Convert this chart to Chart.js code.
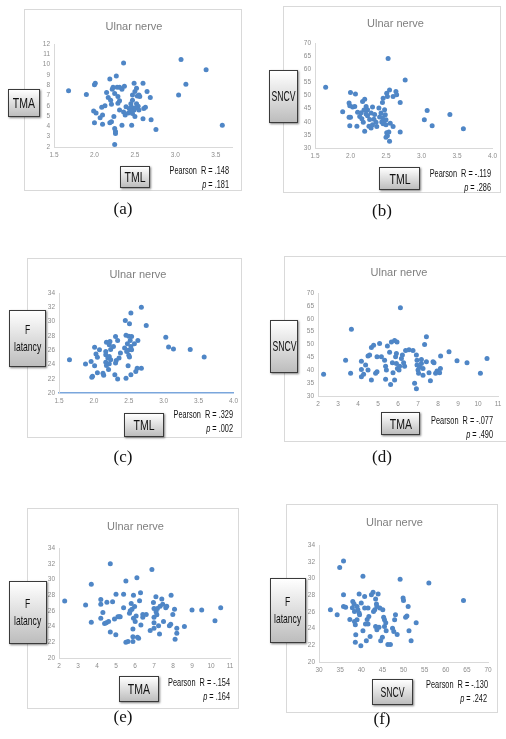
<!DOCTYPE html>
<html>
<head>
<meta charset="utf-8">
<script src="https://cdn.jsdelivr.net/npm/chart.js@4.4.1/dist/chart.umd.min.js"></script>
<style>
  body { margin: 0; background: #fff; }
  #fig { position: relative; width: 506px; height: 739px; overflow: hidden; }
  .panel { position: absolute; box-sizing: border-box; border: 1px solid #d9d9d9; background: #fff; }
  canvas { position: absolute; }
  .lab {
    position: absolute; box-sizing: border-box;
    border: 1px solid #3a3a3a;
    background: linear-gradient(#ffffff, #bdbdbd);
    box-shadow: 1px 1px 2px rgba(0,0,0,.5);
    display: flex; align-items: center; justify-content: center; text-align: center;
    font-family: "Liberation Sans", sans-serif; color: #111;
  }
  .lab span { display: inline-block; white-space: nowrap; }
  .stat {
    position: absolute; text-align: right; white-space: pre;
    font-family: "Liberation Sans", sans-serif;
    font-size: 10.5px; line-height: 14px; color: #111;
    transform: scaleX(0.7); transform-origin: right top;
  }
  .cap {
    position: absolute; transform: translateX(-50%);
    font-family: "Liberation Serif", "Times New Roman", serif; font-size: 17px; color: #111;
  }
</style>
</head>
<body>
<div id="fig"></div>
<script>
// (a) TML vs TMA
const tmlA = [1.68,1.90,2.00,2.01,1.99,2.02,2.00,2.07,2.09,2.10,
              2.10,2.15,2.19,2.20,2.17,2.21,2.22,2.23,2.27,2.25,
              2.28,2.31,2.29,2.24,2.21,2.19,2.25,2.26,2.26,2.25,
              2.36,2.34,2.37,2.39,2.36,2.38,2.34,2.29,2.31,2.43,
              2.45,2.46,2.47,2.47,2.49,2.50,2.49,2.47,2.46,2.50,
              2.52,2.53,2.55,2.52,2.54,2.56,2.51,2.55,2.60,2.61,
              2.63,2.65,2.60,2.69,2.70,2.76,3.07,3.13,3.04,3.38,
              3.58,2.45,2.42,2.31,2.13];
const tmaA = [7.47,7.10,8.05,8.20,5.50,5.30,4.35,4.85,5.85,5.10,
              4.20,7.30,8.60,6.55,6.80,6.15,7.60,7.80,8.90,7.20,
              7.80,7.80,6.90,4.95,4.45,4.35,3.80,3.50,3.30,2.25,
              10.15,7.60,7.90,5.90,5.40,5.10,4.10,6.25,6.50,5.75,
              6.20,5.85,6.55,7.05,8.20,7.40,5.60,5.25,4.10,4.95,
              7.70,6.95,7.05,6.20,5.95,6.90,5.80,5.60,8.20,5.75,
              5.85,7.40,4.75,6.80,4.65,3.70,10.50,8.10,7.05,9.50,
              4.10,5.50,5.30,5.60,6.00];

// (b) TML vs SNCV
const tmlB = [1.65,1.89,2.00,2.07,1.98,1.99,2.03,2.06,1.98,2.00,
              1.99,2.09,2.17,2.20,2.15,2.13,2.16,2.18,2.20,2.22,
              2.24,2.24,2.27,2.26,2.29,2.29,2.31,2.34,2.36,2.37,
              2.40,2.41,2.43,2.44,2.45,2.46,2.46,2.48,2.49,2.50,
              2.50,2.51,2.52,2.55,2.53,2.51,2.52,2.50,2.55,2.54,
              2.56,2.60,2.60,2.64,2.65,2.70,2.70,2.77,3.08,3.04,
              3.15,3.40,3.59,2.10,2.31,2.22,2.19,2.33,2.47,2.45];
const sncvB = [53.1,43.8,51.1,50.6,47.1,46.1,45.6,45.8,41.7,41.7,
               38.5,38.3,47.7,48.6,43.4,42.0,41.1,39.8,36.4,45.8,
               44.6,42.3,40.9,38.3,37.6,43.3,45.6,42.8,39.8,38.2,
               45.2,41.8,43.3,39.9,47.3,49.0,39.2,44.6,42.7,40.8,
               38.9,50.9,49.6,52.1,64.1,35.8,34.7,34.1,32.6,36.1,
               39.4,38.2,49.6,51.5,50.3,47.3,36.1,55.9,44.3,40.8,
               38.5,42.8,37.3,43.6,38.9,43.0,44.5,41.0,40.2,41.5];

// (c) TML vs F latency
const tmlC = [1.65,1.88,1.96,2.01,2.03,2.01,1.97,1.98,2.05,2.08,
              2.05,2.13,2.14,2.17,2.17,2.18,2.20,2.17,2.18,2.22,
              2.23,2.24,2.22,2.24,2.22,2.21,2.31,2.28,2.32,2.30,
              2.34,2.34,2.36,2.38,2.44,2.45,2.46,2.48,2.49,2.50,
              2.49,2.46,2.51,2.50,2.53,2.52,2.54,2.53,2.51,2.54,
              2.53,2.58,2.60,2.62,2.63,2.68,2.68,2.75,3.03,3.07,
              3.14,3.38,3.58,2.31,2.47];
const flatC = [24.65,24.05,24.40,26.40,25.45,23.80,22.20,22.35,22.85,26.05,
               25.00,22.75,22.50,25.80,25.35,27.10,24.90,24.30,23.85,26.75,
               27.20,26.10,25.10,24.65,24.10,23.30,27.90,26.50,24.55,22.55,
               21.95,27.35,24.90,25.60,26.30,30.15,28.10,26.90,26.00,25.30,
               23.80,22.05,29.70,27.95,31.20,27.35,27.90,26.50,25.05,26.05,
               22.55,26.90,23.00,23.45,27.35,32.00,23.45,29.45,27.80,26.45,
               26.15,26.10,25.05,24.20,25.80];

// (d) TMA vs SNCV
const tmaD = [2.28,3.38,3.63,3.67,4.17,4.17,4.17,4.28,4.38,4.50,
              4.50,4.58,4.67,4.67,4.78,4.88,4.95,4.95,5.08,5.17,
              5.33,5.38,5.42,5.38,5.47,5.58,5.63,5.67,5.72,5.75,
              5.83,5.88,5.92,5.92,5.83,5.95,5.97,6.05,6.08,6.12,
              6.17,6.22,6.28,6.33,6.38,6.55,6.75,6.83,6.92,6.92,
              6.95,6.95,7.00,7.03,7.08,7.17,7.17,7.25,7.25,7.33,
              7.42,7.42,7.55,7.62,7.75,7.80,7.88,7.95,8.08,8.12,
              8.13,8.55,8.95,9.45,10.12,10.45];
const sncvD = [38.4,43.9,38.8,55.9,43.5,40.3,37.5,38.4,42.0,40.1,
               45.5,45.9,36.2,48.8,49.7,38.8,39.4,45.2,50.4,45.2,
               43.9,41.6,40.1,36.5,49.4,47.0,34.5,51.0,42.9,39.0,
               51.6,45.2,46.5,42.6,36.2,51.0,40.7,40.1,41.6,64.3,
               44.6,45.9,42.9,41.6,47.7,48.0,47.7,35.0,32.8,45.9,
               43.9,42.0,40.1,38.8,41.2,42.6,44.2,40.7,38.1,50.0,
               53.0,43.3,39.0,35.9,43.3,42.9,38.8,39.7,39.0,40.7,
               45.5,47.2,43.7,42.9,38.8,44.6];

// (e) TMA vs F latency
const tmaE = [2.30,3.40,3.70,3.70,4.20,4.20,4.20,4.31,4.40,4.49,
              4.52,4.61,4.70,4.70,4.82,4.92,4.99,5.00,5.10,5.17,
              5.22,5.40,5.40,5.52,5.52,5.63,5.71,5.75,5.80,5.84,
              5.89,5.89,5.92,5.89,5.92,5.98,6.01,6.06,6.10,6.13,
              6.19,6.24,6.29,6.31,6.41,6.41,6.59,6.80,6.89,6.97,
              7.00,7.00,7.00,7.00,7.10,7.11,7.15,7.18,7.24,7.29,
              7.32,7.41,7.46,7.50,7.62,7.67,7.81,7.88,7.90,7.99,
              8.08,8.11,8.20,8.20,8.60,9.00,9.51,10.21,10.51];
const flatE = [27.25,26.75,24.55,29.40,27.45,26.85,25.05,25.80,24.40,24.50,
               27.10,24.65,32.00,23.30,27.15,24.95,22.95,28.10,25.25,25.25,
               25.25,26.40,28.10,29.80,22.00,22.10,25.70,26.00,26.95,26.20,
               23.70,22.70,28.00,22.10,25.05,26.55,24.65,25.35,30.20,22.65,
               22.50,27.30,28.30,24.20,25.20,25.55,25.55,23.50,31.25,27.05,
               26.30,25.20,24.50,23.80,27.80,25.90,25.50,26.30,24.10,23.05,
               26.60,27.50,26.85,24.65,26.40,26.60,24.10,24.30,28.00,25.55,
               26.20,22.40,23.80,23.15,24.00,26.10,26.10,24.75,26.40];

// (f) SNCV vs F latency
const sncvF = [32.7,34.3,34.9,35.8,35.8,35.8,36.3,37.3,37.9,38.0,
               38.3,38.4,38.4,38.6,38.7,38.6,39.0,39.0,39.2,39.5,
               39.6,39.5,39.9,40.0,40.4,40.4,40.8,40.8,41.0,41.2,
               41.4,41.6,41.6,41.8,42.1,42.4,42.8,42.9,43.2,43.4,
               43.6,43.7,43.4,43.7,44.0,44.2,44.4,44.6,45.0,45.1,
               45.3,45.5,45.5,45.8,45.9,46.3,46.9,47.4,47.7,47.9,
               48.1,48.5,49.2,49.9,50.0,50.5,50.8,51.1,51.3,51.8,
               53.0,56.0,64.2];
const flatF = [26.25,25.65,31.30,32.10,28.05,26.65,26.55,25.10,26.50,27.25,
               26.95,26.05,24.85,24.45,23.25,22.35,26.65,25.05,26.25,25.85,
               25.65,28.15,21.95,27.05,30.25,23.75,27.85,26.45,24.55,22.55,
               25.10,26.45,24.55,25.45,23.05,28.05,28.35,26.05,26.25,27.55,
               26.95,26.65,24.25,23.85,28.15,24.15,26.45,22.55,22.95,26.25,
               25.35,25.05,24.25,24.70,23.75,22.10,22.10,24.05,23.65,25.05,
               25.65,23.30,29.90,27.65,27.35,25.35,25.50,26.65,23.75,22.55,
               24.70,29.45,27.35];

// tick labels
const ticksTML = [1.5, 2, 2.5, 3, 3.5];
const ticksTML4 = [1.5, 2, 2.5, 3, 3.5, 4];
const ticksTMA = [2, 3, 4, 5, 6, 7, 8, 9, 10, 11];
const ticksTMAy = [2, 3, 4, 5, 6, 7, 8, 9, 10, 11, 12];
const ticksSNCV = [30, 35, 40, 45, 50, 55, 60, 65, 70];
const ticksFlat = [20, 22, 24, 26, 28, 30, 32, 34];

const FONT = '"Liberation Sans", sans-serif';
const DOT = '#4f86c6';
const fig = document.getElementById('fig');

function addDiv(cls, l, t, w, h, html, extra) {
  const d = document.createElement('div');
  d.className = cls;
  d.style.left = l + 'px'; d.style.top = t + 'px';
  if (w != null) d.style.width = w + 'px';
  if (h != null) d.style.height = h + 'px';
  d.innerHTML = html;
  if (extra) Object.assign(d.style, extra);
  fig.appendChild(d);
  return d;
}

// label name -> [font size, horizontal squeeze]
const labStyle = { 'TMA': [15, 0.7], 'TML': [15, 0.7], 'SNCV': [14, 0.62], 'F<br>latancy': [13, 0.66] };

const YW = 18, XH = 14, TF = 11;

function nameBox(box, name) {
  const s = labStyle[name];
  addDiv('lab', box[0], box[1], box[2] - box[0], box[3] - box[1],
    '<span style="transform:scaleX(' + s[1] + ')">' + name + '</span>',
    { fontSize: s[0] + 'px', lineHeight: '1.3' });
}

function scatter(p) {
  const [L, T, R, B] = p.box;
  const [l, t, r, b] = p.plot;
  addDiv('panel', L, T, R - L, B - T, '');
  const cv = document.createElement('canvas');
  cv.width = R - L; cv.height = B - T;
  cv.style.left = L + 'px'; cv.style.top = T + 'px';
  fig.appendChild(cv);

  const padTop = p.titleY - T - TF * 0.6;
  const padBot = t - p.titleY - TF * 0.6;
  const pts = p.xs.map((x, i) => ({ x: x, y: p.ys[i] }));

  new Chart(cv.getContext('2d'), {
    type: 'scatter',
    data: { datasets: [{ data: pts, backgroundColor: DOT, borderWidth: 0, pointRadius: 2.5, pointHoverRadius: 2.5 }] },
    options: {
      responsive: false,
      animation: false,
      events: [],
      layout: { padding: { left: l - L - YW, right: R - r, top: 0, bottom: B - b - XH } },
      plugins: {
        legend: { display: false },
        tooltip: { enabled: false },
        title: {
          display: true, text: 'Ulnar nerve', color: '#7f7f7f',
          font: { family: FONT, size: TF, weight: 'normal', lineHeight: 1.2 },
          padding: { top: padTop, bottom: padBot }
        }
      },
      scales: {
        x: {
          type: 'linear', min: p.xr[0], max: p.xr[1],
          afterFit: s => { s.height = XH; },
          afterBuildTicks: s => { s.ticks = p.xt.map(v => ({ value: v })); },
          grid: { display: false, drawTicks: false },
          border: { display: true, color: p.xLine || '#d9d9d9', width: p.xLineW || 1 },
          ticks: { color: '#8c8c8c', font: { family: FONT, size: 6.5 }, padding: 4, maxRotation: 0, autoSkip: false }
        },
        y: {
          type: 'linear', min: p.yr[0], max: p.yr[1],
          afterFit: s => { s.width = YW; },
          afterBuildTicks: s => { s.ticks = p.yt.map(v => ({ value: v })); },
          grid: { display: false, drawTicks: false },
          border: { display: true, color: '#d9d9d9', width: 1 },
          ticks: { color: '#8c8c8c', font: { family: FONT, size: 6.5 }, padding: 4, autoSkip: false }
        }
      }
    }
  });

  nameBox(p.yLab, p.yName);
  nameBox(p.xLab, p.xName);
  const st = p.stat;
  addDiv('stat', st[0], st[1], st[2] - st[0], null,
    'Pearson  R = ' + p.R + '<br><i>p</i> = ' + p.P);
  addDiv('cap', p.cap[0], p.cap[1] - 11, null, null, p.capText);
}

const FL = 'F<br>latancy';

scatter({ box: [24, 9, 242, 191], plot: [54, 44, 232, 147], titleY: 27,
  xs: tmlA, ys: tmaA, xr: [1.5, 3.7], yr: [2, 12], xt: ticksTML, yt: ticksTMAy,
  yLab: [8, 89, 40, 117], yName: 'TMA', xLab: [120, 166, 150, 188], xName: 'TML',
  stat: [140, 163, 229], R: '.148', P: '.181', cap: [123, 210], capText: '(a)' });

scatter({ box: [283, 6, 501, 193], plot: [315, 43, 494, 148], titleY: 24,
  xs: tmlB, ys: sncvB, xr: [1.5, 4], yr: [30, 70], xt: ticksTML4, yt: ticksSNCV,
  yLab: [269, 70, 298, 123], yName: 'SNCV', xLab: [379, 167, 420, 190], xName: 'TML',
  stat: [400, 166, 491], R: '-.119', P: '.286', cap: [382, 212], capText: '(b)' });

scatter({ box: [27, 258, 242, 438], plot: [59, 293, 235, 393], titleY: 275,
  xs: tmlC, ys: flatC, xr: [1.5, 4], yr: [20, 34], xt: ticksTML4, yt: ticksFlat,
  xLine: '#7aa6dc', xLineW: 1.5,
  yLab: [9, 310, 46, 367], yName: FL, xLab: [124, 413, 164, 437], xName: 'TML',
  stat: [140, 407, 233], R: '.329', P: '.002', cap: [123, 458], capText: '(c)' });

scatter({ box: [284, 256, 507, 442], plot: [318, 293, 498, 396], titleY: 273,
  xs: tmaD, ys: sncvD, xr: [2, 11], yr: [30, 70], xt: ticksTMA, yt: ticksSNCV,
  yLab: [270, 320, 298, 373], yName: 'SNCV', xLab: [381, 412, 420, 435], xName: 'TMA',
  stat: [400, 413, 493], R: '-.077', P: '.490', cap: [382, 458], capText: '(d)' });

scatter({ box: [27, 508, 239, 709], plot: [59, 548, 230, 658], titleY: 527,
  xs: tmaE, ys: flatE, xr: [2, 11], yr: [20, 34], xt: ticksTMA, yt: ticksFlat,
  yLab: [9, 581, 47, 644], yName: FL, xLab: [119, 676, 159, 702], xName: 'TMA',
  stat: [140, 675, 230], R: '-.154', P: '.164', cap: [123, 718], capText: '(e)' });

scatter({ box: [286, 504, 498, 713], plot: [319, 545, 488, 662], titleY: 523,
  xs: sncvF, ys: flatF, xr: [30, 70], yr: [20, 34], xt: ticksSNCV, yt: ticksFlat,
  yLab: [270, 578, 306, 643], yName: FL, xLab: [372, 679, 413, 705], xName: 'SNCV',
  stat: [400, 677, 487], R: '-.130', P: '.242', cap: [382, 720], capText: '(f)' });
</script>
</body>
</html>
